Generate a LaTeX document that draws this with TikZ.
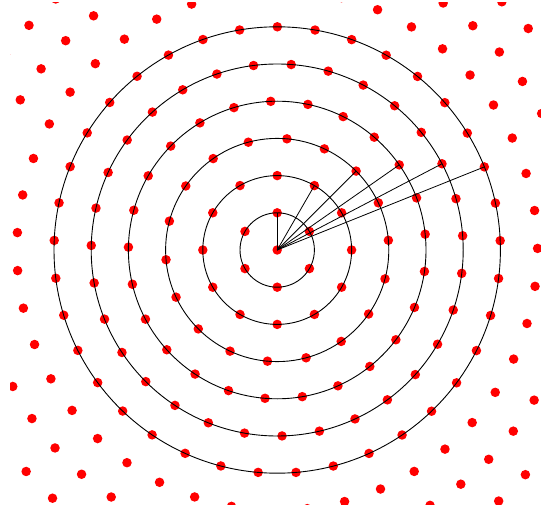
\documentclass[tikz,border=0pt]{standalone}
\tikzset{
  rpdot/.style={circle, fill=red, inner sep=0pt, minimum size=9.5pt},
  rpring/.style={draw=black, line width=0.9pt},
  rpray/.style={draw=black, line width=0.8pt},
}
\newcommand{\rpunit}{37.2}

\begin{document}
\begin{tikzpicture}[x=1pt,y=1pt]
  \useasboundingbox (0,0) rectangle (541,504);
  \clip (10,0) rectangle (541,501);

  \node[rpdot] (ctr) at (277.2,254) {};
  \foreach \k/\n/\off in {1/6/30, 2/12/0, 3/18/5, 4/25/6.1, 5/31/4.4,
                          6/37/2.4, 7/43/0.35, 8/50/5.7, 9/56/2.85}{
    \pgfmathtruncatemacro\m{\n-1}
    \pgfmathsetmacro\stp{360/\n}
    \foreach \j in {0,...,\m}{
      \pgfmathsetmacro\ang{\off+\j*\stp}
      \node[rpdot] (p\k-\j) at ([shift={(277.2,254)}]\ang:\k*\rpunit) {};
    }
  }

  \foreach \k in {1,...,6}
    \draw[rpring] (ctr.center) circle[radius=\k*\rpunit];
  \foreach \k/\j in {1/1, 2/2, 3/2, 4/2, 5/2, 6/2}
    \draw[rpray] (ctr.center) -- (p\k-\j.center);
\end{tikzpicture}
\end{document}
